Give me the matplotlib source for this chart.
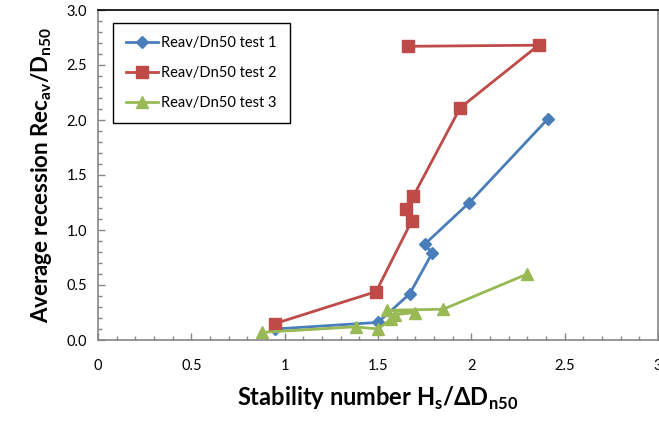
import numpy as np
import matplotlib
matplotlib.use("Agg")
import matplotlib.pyplot as plt
from matplotlib.ticker import MultipleLocator, FormatStrFormatter

plt.rcParams['font.family'] = ['Lato', 'DejaVu Sans']
plt.rcParams['mathtext.fontset'] = 'custom'
plt.rcParams['mathtext.rm'] = 'Lato'
plt.rcParams['mathtext.bf'] = 'Lato:bold'

# test 1 (blue diamonds)
x1 = [0.95, 1.50, 1.67, 1.79, 1.75, 1.99, 2.41]
y1 = [0.10, 0.16, 0.42, 0.79, 0.87, 1.25, 2.01]

# test 2 (red squares)
x2 = [0.95, 1.49, 1.68, 1.65, 1.69, 1.94, 2.36, 1.66]
y2 = [0.15, 0.44, 1.08, 1.19, 1.31, 2.11, 2.68, 2.67]

# test 3 (green triangles)
x3 = [0.88, 1.38, 1.50, 1.57, 1.59, 1.70, 1.55, 1.85, 2.30]
y3 = [0.07, 0.12, 0.10, 0.19, 0.23, 0.25, 0.27, 0.28, 0.60]

labels = ["Reav/Dn50 test 1", "Reav/Dn50 test 2", "Reav/Dn50 test 3"]
colors = ["#4A7EBB", "#BE4B48", "#98B954"]

fig = plt.figure(figsize=(6.59, 4.26), dpi=100)
ax = fig.add_axes([98 / 659, 86 / 426, 560 / 659, 330 / 426])

ax.plot(x1, y1, color=colors[0], lw=2.0, marker='D', ms=6, label=labels[0])
ax.plot(x2, y2, color=colors[1], lw=2.0, marker='s', ms=8, label=labels[1])
ax.plot(x3, y3, color=colors[2], lw=2.0, marker='^', ms=8, label=labels[2])

ax.set_xlim(0, 3)
ax.set_ylim(0, 3)
ax.xaxis.set_major_locator(MultipleLocator(0.5))
ax.xaxis.set_minor_locator(MultipleLocator(0.1))
ax.yaxis.set_major_locator(MultipleLocator(0.5))
ax.yaxis.set_minor_locator(MultipleLocator(0.1))
ax.yaxis.set_major_formatter(FormatStrFormatter('%.1f'))
ax.xaxis.set_major_formatter(plt.FuncFormatter(lambda v, p: f"{v:g}"))

ax.tick_params(which='major', direction='in', length=5, width=1, color='#868686',
               labelsize=10.5, pad=14)
ax.tick_params(which='minor', direction='in', length=3, width=1, color='#868686')
ax.tick_params(axis='y', pad=8)

for s in ['left', 'bottom', 'right']:
    ax.spines[s].set_color('#868686')
ax.spines['top'].set_color('black')
for s in ax.spines.values():
    s.set_linewidth(1.2)

ax.set_ylabel(r"Average recession Rec$_{\mathbf{av}}$/D$_{\mathbf{n50}}$",
              fontsize=16, fontweight='bold', labelpad=9)
ax.set_xlabel(r"Stability number H$_{\mathbf{s}}$/ΔD$_{\mathbf{n50}}$",
              fontsize=17, fontweight='bold', labelpad=8)

leg = ax.legend(loc='upper left', bbox_to_anchor=(0.027, 0.961), borderaxespad=0,
                fontsize=10.5, numpoints=1, handlelength=2.2, labelspacing=1.1,
                fancybox=False, framealpha=1, edgecolor='black', borderpad=0.9,
                handletextpad=0.2)
leg.get_frame().set_linewidth(1.0)

fig.savefig("out.png", dpi=100)
